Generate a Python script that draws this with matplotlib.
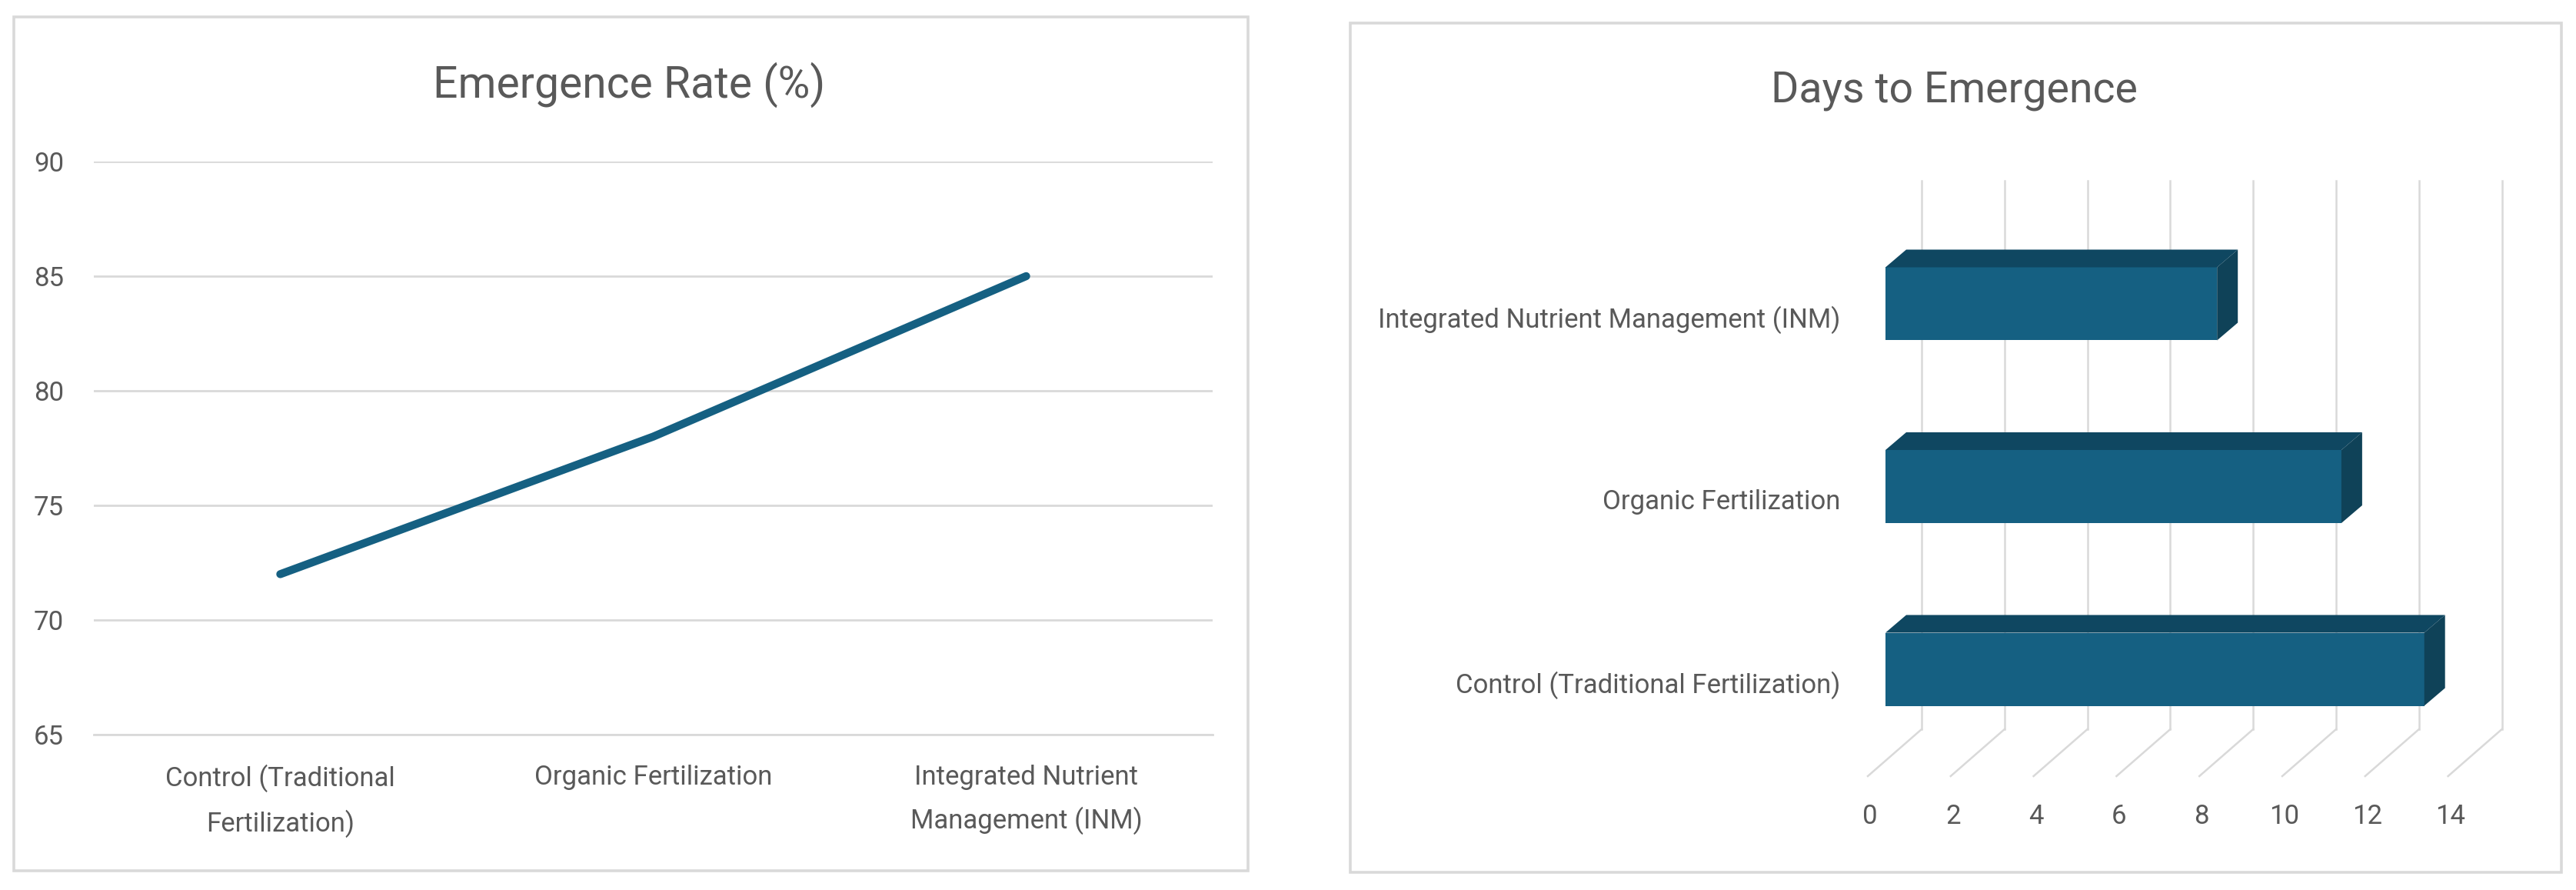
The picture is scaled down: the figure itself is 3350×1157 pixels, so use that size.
import matplotlib
matplotlib.use("Agg")
import matplotlib.pyplot as plt
from matplotlib.patches import Rectangle, Polygon
from matplotlib.transforms import ScaledTranslation

W, H = 3350, 1157
plt.rcParams['font.family'] = ['Roboto', 'DejaVu Sans']

line_categories = ['Control (Traditional\nFertilization)', 'Organic Fertilization',
                   'Integrated Nutrient\nManagement (INM)']
emergence_rate = [72, 78, 85]
rate_ticks = [65, 70, 75, 80, 85, 90]

bar_categories = ['Control (Traditional Fertilization)', 'Organic Fertilization',
                  'Integrated Nutrient Management (INM)']
days_to_emergence = [13, 11, 8]
day_ticks = [0, 2, 4, 6, 8, 10, 12, 14]

TEXT = '#595959'
GRID = '#d9d9d9'
BLUE = '#156082'
BLUE_TOP = '#0f4761'
BLUE_SIDE = '#0f4258'
FRAME = '#d9d9d9'
LABEL_SIZE = 25

fig = plt.figure(figsize=(W / 100, H / 100), dpi=100, facecolor='white')


def axes_px(x0, y0, x1, y1):
    return fig.add_axes([x0 / W, 1 - y1 / H, (x1 - x0) / W, (y1 - y0) / H])


def frame_px(x0, y0, x1, y1):
    fig.add_artist(Rectangle((x0 / W, 1 - y1 / H), (x1 - x0) / W, (y1 - y0) / H,
                             transform=fig.transFigure, fill=False,
                             edgecolor=FRAME, linewidth=2.6))


# ---------- left panel ----------
frame_px(18, 22, 1623, 1132)
ax1 = axes_px(122, 210, 1577, 955)
ax1.plot(range(3), emergence_rate, color=BLUE, linewidth=7.5,
         solid_capstyle='round', zorder=3)
ax1.set_xlim(-0.5, 2.5)
ax1.set_ylim(65, 90)
ax1.set_yticks(rate_ticks)
ax1.set_xticks(range(3))
ax1.set_xticklabels(line_categories, linespacing=1.78)
ax1.grid(axis='y', color=GRID, linewidth=2)
ax1.set_axisbelow(True)
ax1.tick_params(axis='both', length=0, labelsize=LABEL_SIZE, labelcolor=TEXT)
ax1.tick_params(axis='y', pad=28)
ax1.tick_params(axis='x', pad=28)
for s in ax1.spines.values():
    s.set_visible(False)
ax1.spines['bottom'].set_visible(True)
ax1.spines['bottom'].set_color(GRID)
ax1.spines['bottom'].set_linewidth(2)
fig.text(818 / W, 1 - 110 / H, 'Emergence Rate (%)', ha='center', va='center',
         fontsize=41, color=TEXT)

# ---------- right panel ----------
frame_px(1756, 30, 3331, 1134)
PX_X = 53.9     # pixels per day
PX_Y = 237.5    # pixels per category
X0, Y_BOTTOM, Y_TOP = 2452, 1009, 235
ax2 = axes_px(X0, Y_TOP, X0 + 15 * PX_X, Y_BOTTOM)
ax2.set_xlim(0, 15)
# category 0 label centre sits at pixel y=887
ax2.set_ylim((887 - Y_BOTTOM) / PX_Y, (887 - Y_TOP) / PX_Y)

WALL_DX = 47 / PX_X
FLOOR_DX = 23 / PX_X
FLOOR_BACK = 61 / (Y_BOTTOM - Y_TOP)
BAR_DX = 27 / PX_X
BAR_DY = 23 / PX_Y
BAR_H = 95 / PX_Y
BAR_SHIFT = 17 / PX_Y

xax = ax2.get_xaxis_transform()
for d in day_ticks:
    ax2.plot([d + WALL_DX] * 2, [FLOOR_BACK, 1], transform=xax, color=GRID,
             linewidth=1.8, zorder=1, clip_on=False)
    ax2.plot([d + WALL_DX, d - FLOOR_DX], [FLOOR_BACK, 0], transform=xax, color=GRID,
             linewidth=1.8, zorder=1, clip_on=False)

for i, v in enumerate(days_to_emergence):
    yc = i + BAR_SHIFT
    lo, hi = yc - BAR_H / 2, yc + BAR_H / 2
    ax2.barh(yc, v, height=BAR_H, color=BLUE, zorder=3)
    ax2.add_patch(Polygon([(0, hi), (v, hi), (v + BAR_DX, hi + BAR_DY), (BAR_DX, hi + BAR_DY)],
                          facecolor=BLUE_TOP, edgecolor='none', zorder=3))
    ax2.add_patch(Polygon([(v, lo), (v + BAR_DX, lo + BAR_DY), (v + BAR_DX, hi + BAR_DY), (v, hi)],
                          facecolor=BLUE_SIDE, edgecolor='none', zorder=3))

ax2.set_xticks(day_ticks)
ax2.set_yticks(range(3))
ax2.set_yticklabels(bar_categories)
ax2.tick_params(axis='both', length=0, labelsize=LABEL_SIZE, labelcolor=TEXT)
ax2.tick_params(axis='y', pad=42)
ax2.tick_params(axis='x', pad=26)
shift = ScaledTranslation(-20 / 100, 0, fig.dpi_scale_trans)
for lab in ax2.get_xticklabels():
    lab.set_transform(lab.get_transform() + shift)
for s in ax2.spines.values():
    s.set_visible(False)
fig.text(2541 / W, 1 - 117 / H, 'Days to Emergence', ha='center', va='center',
         fontsize=40, color=TEXT)

fig.savefig('out.png', dpi=100, facecolor='white')
